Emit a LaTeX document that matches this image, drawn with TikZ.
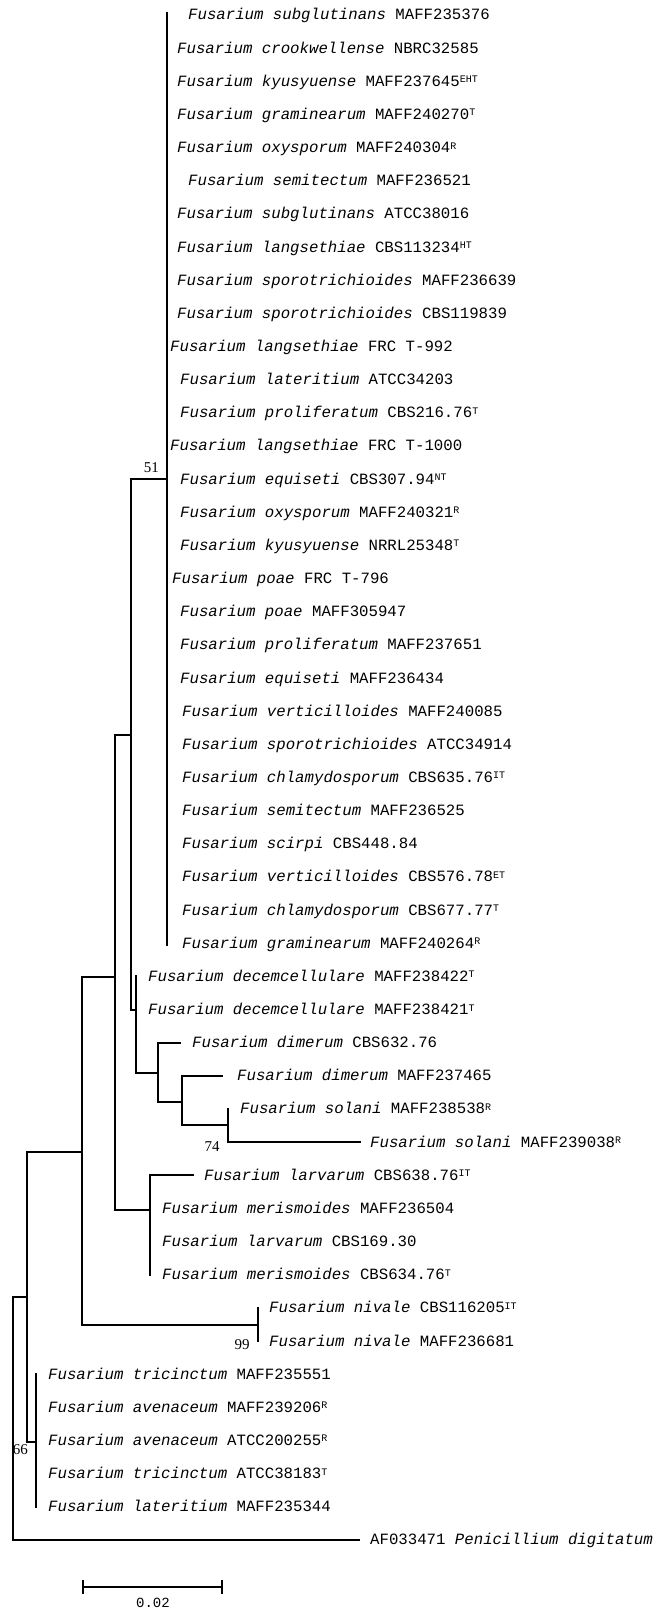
\documentclass[tikz,border=0pt]{standalone}
\usepackage{fontspec}
\setmainfont{Liberation Serif}
\setmonofont{Liberation Mono}
\newcommand{\sps}[1]{\raisebox{3.5pt}{\fontsize{10}{10}\selectfont #1}}
\newcommand{\fu}[1]{\textit{Fusarium #1}}
\begin{document}
\begin{tikzpicture}[x=1pt,y=-1pt,
  lab/.style={anchor=west,inner sep=0pt,text height=10pt,text depth=0pt,font=\ttfamily\fontsize{15.7}{15.7}\selectfont},
  br/.style={line width=1.8pt,line cap=rect},
  boot/.style={inner sep=0pt,font=\rmfamily\fontsize{15}{15}\selectfont}]
\fill[white] (0,0) rectangle (655,1611);
\useasboundingbox (0,0) rectangle (655,1611);
% ---- leaf labels ----
\node[lab] (t1) at (188,15) {\fu{subglutinans} MAFF235376};
\node[lab] (t2) at (177,48.15) {\fu{crookwellense} NBRC32585};
\node[lab] (t3) at (177,81.3) {\fu{kyusyuense} MAFF237645\sps{EHT}};
\node[lab] (t4) at (177,114.45) {\fu{graminearum} MAFF240270\sps{T}};
\node[lab] (t5) at (177,147.6) {\fu{oxysporum} MAFF240304\sps{R}};
\node[lab] (t6) at (188,180.75) {\fu{semitectum} MAFF236521};
\node[lab] (t7) at (177,213.9) {\fu{subglutinans} ATCC38016};
\node[lab] (t8) at (177,247.05) {\fu{langsethiae} CBS113234\sps{HT}};
\node[lab] (t9) at (177,280.2) {\fu{sporotrichioides} MAFF236639};
\node[lab] (t10) at (177,313.35) {\fu{sporotrichioides} CBS119839};
\node[lab] (t11) at (170,346.5) {\fu{langsethiae} FRC T-992};
\node[lab] (t12) at (180,379.65) {\fu{lateritium} ATCC34203};
\node[lab] (t13) at (180,412.8) {\fu{proliferatum} CBS216.76\sps{T}};
\node[lab] (t14) at (170,445.95) {\fu{langsethiae} FRC T-1000};
\node[lab] (t15) at (180,479.1) {\fu{equiseti} CBS307.94\sps{NT}};
\node[lab] (t16) at (180,512.25) {\fu{oxysporum} MAFF240321\sps{R}};
\node[lab] (t17) at (180,545.4) {\fu{kyusyuense} NRRL25348\sps{T}};
\node[lab] (t18) at (172,578.55) {\fu{poae} FRC T-796};
\node[lab] (t19) at (180,611.7) {\fu{poae} MAFF305947};
\node[lab] (t20) at (180,644.85) {\fu{proliferatum} MAFF237651};
\node[lab] (t21) at (180,678) {\fu{equiseti} MAFF236434};
\node[lab] (t22) at (182,711.15) {\fu{verticilloides} MAFF240085};
\node[lab] (t23) at (182,744.3) {\fu{sporotrichioides} ATCC34914};
\node[lab] (t24) at (182,777.45) {\fu{chlamydosporum} CBS635.76\sps{IT}};
\node[lab] (t25) at (182,810.6) {\fu{semitectum} MAFF236525};
\node[lab] (t26) at (182,843.75) {\fu{scirpi} CBS448.84};
\node[lab] (t27) at (182,876.9) {\fu{verticilloides} CBS576.78\sps{ET}};
\node[lab] (t28) at (182,910.05) {\fu{chlamydosporum} CBS677.77\sps{T}};
\node[lab] (t29) at (182,943.2) {\fu{graminearum} MAFF240264\sps{R}};
\node[lab] (t30) at (148,976.35) {\fu{decemcellulare} MAFF238422\sps{T}};
\node[lab] (t31) at (148,1009.5) {\fu{decemcellulare} MAFF238421\sps{T}};
\node[lab] (t32) at (192,1042.65) {\fu{dimerum} CBS632.76};
\node[lab] (t33) at (237,1075.8) {\fu{dimerum} MAFF237465};
\node[lab] (t34) at (240,1108.95) {\fu{solani} MAFF238538\sps{R}};
\node[lab] (t35) at (370,1142.1) {\fu{solani} MAFF239038\sps{R}};
\node[lab] (t36) at (204,1175.25) {\fu{larvarum} CBS638.76\sps{IT}};
\node[lab] (t37) at (162,1208.4) {\fu{merismoides} MAFF236504};
\node[lab] (t38) at (162,1241.55) {\fu{larvarum} CBS169.30};
\node[lab] (t39) at (162,1274.7) {\fu{merismoides} CBS634.76\sps{T}};
\node[lab] (t40) at (269,1307.85) {\fu{nivale} CBS116205\sps{IT}};
\node[lab] (t41) at (269,1341) {\fu{nivale} MAFF236681};
\node[lab] (t42) at (48,1374.15) {\fu{tricinctum} MAFF235551};
\node[lab] (t43) at (48,1407.3) {\fu{avenaceum} MAFF239206\sps{R}};
\node[lab] (t44) at (48,1440.45) {\fu{avenaceum} ATCC200255\sps{R}};
\node[lab] (t45) at (48,1473.6) {\fu{tricinctum} ATCC38183\sps{T}};
\node[lab] (t46) at (48,1506.75) {\fu{lateritium} MAFF235344};
\node[lab] (t47) at (370,1539.9) {AF033471 \textit{Penicillium digitatum}};
% ---- internal nodes ----
\coordinate (nA) at (167,479.1);
\coordinate (nX) at (131,735);
\coordinate (nY) at (136,1010);
\coordinate (nW) at (158,1073);
\coordinate (nV) at (182,1102);
\coordinate (n74) at (228,1125);
\coordinate (nL) at (150,1210);
\coordinate (nU) at (115,977);
\coordinate (nT) at (82,1152);
\coordinate (nN) at (258,1325);
\coordinate (nS) at (27,1297);
\coordinate (nR) at (36,1442);
\coordinate (nRoot) at (13,1297);
% ---- branches ----
\draw[br] ([yshift=2pt]t1.west -| nA) -- ([yshift=-2pt]t29.west -| nA);
\draw[br] (nX) |- (nA);
\draw[br] (nU) |- (nX);
\draw[br] (nX) |- (nY);
\draw[br] (t30.west -| nY) |- (nW);
\draw[br] (nW) |- ([xshift=-12pt]t32.west);
\draw[br] (nW) |- (nV);
\draw[br] (nV) |- ([xshift=-15pt]t33.west);
\draw[br] (nV) |- (n74);
\draw[br] (n74) |- (t34.west -| n74);
\draw[br] (n74) |- ([xshift=-10pt]t35.west);
\draw[br] (nU) |- (nL);
\draw[br] (nL) |- ([xshift=-11pt]t36.west);
\draw[br] (nL) |- (t39.west -| nL);
\draw[br] (nT) |- (nU);
\draw[br] (nT) |- (nN);
\draw[br] (nN) |- (t40.west -| nN);
\draw[br] (nN) |- (t41.west -| nN);
\draw[br] (nS) |- (nT);
\draw[br] (nS) |- (nR);
\draw[br] (nR) |- (t42.west -| nR);
\draw[br] (nR) |- (t46.west -| nR);
\draw[br] (nRoot) -- (nS);
\draw[br] (nRoot) |- ([xshift=-11pt]t47.west);
% ---- bootstrap values ----
\node[boot,anchor=east] (b51) at (159,468) {51};
\node[boot] (b74) at (212,1147) {74};
\node[boot] (b99) at (242,1345) {99};
\node[boot,anchor=east] (b66) at (28,1450) {66};
% ---- scale bar ----
\coordinate (sb1) at (83,1587);
\coordinate (sb2) at (222,1587);
\draw[br] (sb1) -- (sb2);
\draw[br] ([yshift=-6pt]sb1) -- ([yshift=6pt]sb1);
\draw[br] ([yshift=-6pt]sb2) -- ([yshift=6pt]sb2);
\node[inner sep=0pt,font=\ttfamily\fontsize{14}{14}\selectfont] (sbl) at (153,1603) {0.02};
\end{tikzpicture}
\end{document}
